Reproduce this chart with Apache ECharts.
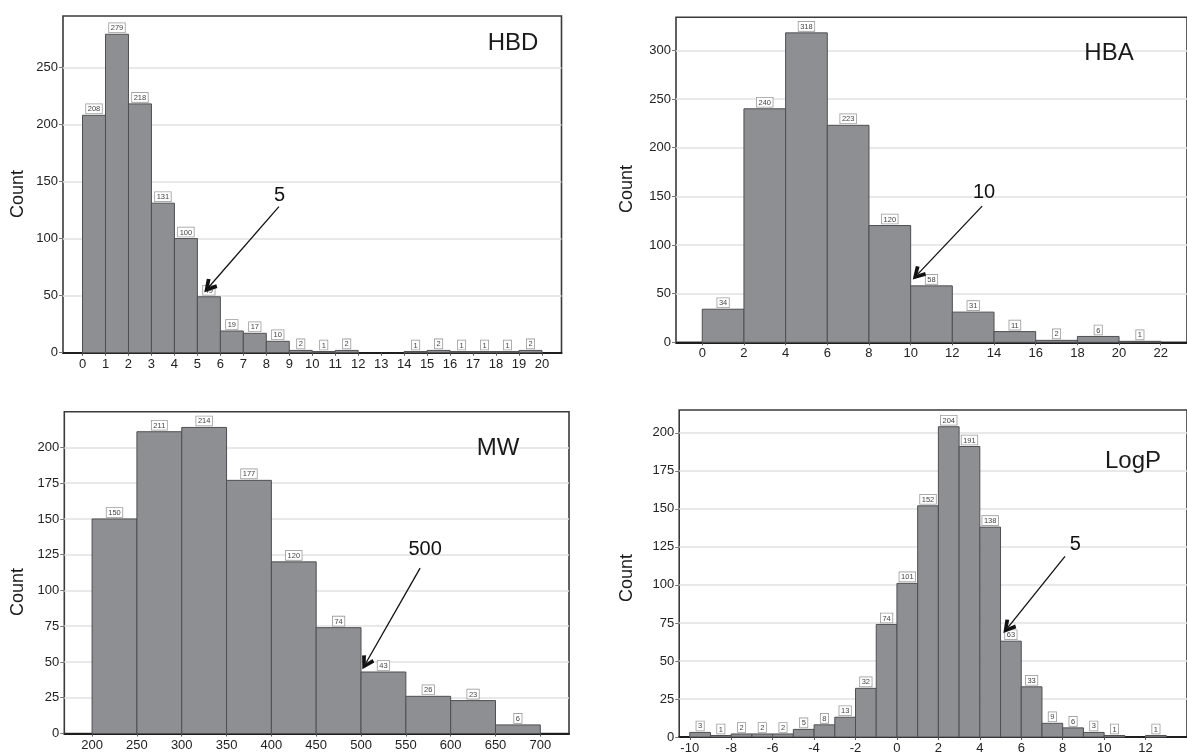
<!DOCTYPE html>
<html>
<head>
<meta charset="utf-8">
<script src="https://cdn.jsdelivr.net/npm/echarts@6/dist/echarts.min.js"></script>
<style>
html,body{margin:0;padding:0;background:#fff;}
#chart{width:1187px;height:755px;}
</style>
</head>
<body>
<div id="chart"></div>
<script>
// ---------------- DATA ----------------
// HBD
const hbdBinStart = [0,1,2,3,4,5,6,7,8,9,10,11,12,13,14,15,16,17,18,19];
const hbdBinEnd   = [1,2,3,4,5,6,7,8,9,10,11,12,13,14,15,16,17,18,19,20];
const hbdCounts   = [208,279,218,131,100,49,19,17,10,2,1,2,0,0,1,2,1,1,1,2];
const hbdXTicks   = [0,1,2,3,4,5,6,7,8,9,10,11,12,13,14,15,16,17,18,19,20];
const hbdYTicks   = [0,50,100,150,200,250];
// HBA
const hbaBinStart = [0,2,4,6,8,10,12,14,16,18,20];
const hbaBinEnd   = [2,4,6,8,10,12,14,16,18,20,22];
const hbaCounts   = [34,240,318,223,120,58,31,11,2,6,1];
const hbaXTicks   = [0,2,4,6,8,10,12,14,16,18,20,22];
const hbaYTicks   = [0,50,100,150,200,250,300];
// MW
const mwBinStart  = [200,250,300,350,400,450,500,550,600,650];
const mwBinEnd    = [250,300,350,400,450,500,550,600,650,700];
const mwCounts    = [150,211,214,177,120,74,43,26,23,6];
const mwXTicks    = [200,250,300,350,400,450,500,550,600,650,700];
const mwYTicks    = [0,25,50,75,100,125,150,175,200];
// LogP
const logpBinStart = [-10,-9,-8,-7,-6,-5,-4,-3,-2,-1,0,1,2,3,4,5,6,7,8,9,10,11,12];
const logpBinEnd   = [-9,-8,-7,-6,-5,-4,-3,-2,-1,0,1,2,3,4,5,6,7,8,9,10,11,12,13];
const logpCounts   = [3,1,2,2,2,5,8,13,32,74,101,152,204,191,138,63,33,9,6,3,1,0,1];
const logpXTicks   = [-10,-8,-6,-4,-2,0,2,4,6,8,10,12];
const logpYTicks   = [0,25,50,75,100,125,150,175,200];

// Arrow annotations (data coordinates): [tailX, tailY, headX, headY, textX, textY, text]
const hbdArrow  = [8.55, 128, 5.5, 57.6, 8.58, 138, '5'];
const hbaArrow  = [13.43, 139.9, 10.33, 69.8, 13.52, 153.7, '10'];
const mwArrow   = [565.9, 115.6, 505.3, 49.1, 571.5, 128.9, '500'];
const logpArrow = [8.11, 118.8, 5.35, 71.95, 8.61, 126.5, '5'];

// ---------------- STYLE / LAYOUT ----------------
const FONT = 'Liberation Sans, Arial, Helvetica, sans-serif';
const BAR_FILL = '#8e8f93';
const BAR_STROKE = '#4f4f52';
const CHEVRON = 'path://M5,0 L10,9 L7.7,10.6 L5,5.2 L2.3,10.6 L0,9 Z';

const panels = [
  {name:'HBD', start:hbdBinStart, end:hbdBinEnd, counts:hbdCounts, xt:hbdXTicks, yt:hbdYTicks,
   xmin:-0.85, xmax:20.85, ymax:295, arrow:hbdArrow,
   grid:{left:63, right:625.5, top:16, bottom:402.3},
   title:[513,43], count:[18,194]},
  {name:'HBA', start:hbaBinStart, end:hbaBinEnd, counts:hbaCounts, xt:hbaXTicks, yt:hbaYTicks,
   xmin:-1.26, xmax:23.26, ymax:334, arrow:hbaArrow,
   grid:{left:676, right:-13, top:17.3, bottom:412.7},
   title:[1109,53], count:[627,189]},
  {name:'MW', start:mwBinStart, end:mwBinEnd, counts:mwCounts, xt:mwXTicks, yt:mwYTicks,
   xmin:169, xmax:732, ymax:225, arrow:mwArrow,
   grid:{left:64.3, right:618, top:411.7, bottom:21.5},
   title:[498,448], count:[18,592]},
  {name:'LogP', start:logpBinStart, end:logpBinEnd, counts:logpCounts, xt:logpXTicks, yt:logpYTicks,
   xmin:-10.51, xmax:14, ymax:215, arrow:logpArrow,
   grid:{left:679.2, right:-12, top:410, bottom:16.8},
   title:[1133,461], count:[627,578]}
];

function renderItem(params, api){
  const x0 = api.value(0), x1 = api.value(1), v = api.value(2);
  if (!(v > 0)) return {type:'group', children:[]};
  const p0 = api.coord([x0, v]);
  const p1 = api.coord([x1, 0]);
  return {
    type:'group',
    children:[
      {type:'rect', shape:{x:p0[0], y:p0[1], width:p1[0]-p0[0], height:p1[1]-p0[1]},
       style:{fill:BAR_FILL, stroke:BAR_STROKE, lineWidth:1}},
      {type:'text', x:(p0[0]+p1[0])/2, y:p0[1]-2,
       style:{text:String(v), fontSize:7.5, fontFamily:FONT, fill:'#444',
              align:'center', verticalAlign:'bottom',
              backgroundColor:'#fff', borderColor:'#9a9a9a', borderWidth:0.8,
              padding:[1,1.6,0,1.6]}}
    ]
  };
}

const grids = [], xAxes = [], yAxes = [], series = [], graphics = [];
panels.forEach((p, i) => {
  grids.push(Object.assign({show:true, borderColor:'#3a3a3a', borderWidth:1.6, backgroundColor:'#fff'}, p.grid));
  xAxes.push({
    type:'value', gridIndex:i, min:p.xmin, max:p.xmax,
    axisLine:{show:true, onZero:false, lineStyle:{color:'#1e1e1e', width:2}},
    axisTick:{show:true, length:3, lineStyle:{color:'#555'}, customValues:p.xt},
    axisLabel:{color:'#222', fontSize:13, fontFamily:FONT, margin:5, customValues:p.xt},
    splitLine:{show:false}
  });
  yAxes.push({
    type:'value', gridIndex:i, min:0, max:p.ymax, position:'left',
    axisLine:{show:false, onZero:false},
    axisTick:{show:true, length:4, lineStyle:{color:'#777'}, customValues:p.yt},
    axisLabel:{color:'#222', fontSize:13, fontFamily:FONT, margin:5, customValues:p.yt},
    splitLine:{show:true, lineStyle:{color:'#e2e2e2', width:1.5}}
  });
  const data = p.start.map((s, k) => [s, p.end[k], p.counts[k]]);
  const a = p.arrow;
  series.push({
    type:'custom', xAxisIndex:i, yAxisIndex:i, renderItem:renderItem,
    encode:{x:[0,1], y:2}, data:data, animation:false, silent:true, clip:false,
    markLine:{
      silent:true, animation:false,
      symbol:['none', CHEVRON], symbolSize:[14,14],
      lineStyle:{color:'#111', width:1.3, type:'solid'},
      label:{show:false},
      data:[[{coord:[a[0], a[1]]}, {coord:[a[2], a[3]]}]]
    },
    markPoint:{
      silent:true, animation:false,
      symbol:'circle', symbolSize:1, itemStyle:{color:'rgba(0,0,0,0)'},
      label:{show:true, position:'inside', formatter:a[6], fontSize:20, fontFamily:FONT, color:'#111'},
      data:[{coord:[a[4], a[5]], value:a[6]}]
    }
  });
  graphics.push({type:'text', x:p.title[0], y:p.title[1], z:100,
    style:{text:p.name, fontSize:24, fontFamily:FONT, fill:'#1a1a1a', align:'center', verticalAlign:'middle'}});
  graphics.push({type:'text', x:p.count[0], y:p.count[1], rotation:Math.PI/2, z:100,
    style:{text:'Count', fontSize:18, fontFamily:FONT, fill:'#1a1a1a', align:'center', verticalAlign:'middle'}});
});

const chart = echarts.init(document.getElementById('chart'), null, {renderer:'canvas'});
chart.setOption({
  backgroundColor:'#fff',
  animation:false,
  grid:grids, xAxis:xAxes, yAxis:yAxes, series:series, graphic:graphics
});
</script>
</body>
</html>
